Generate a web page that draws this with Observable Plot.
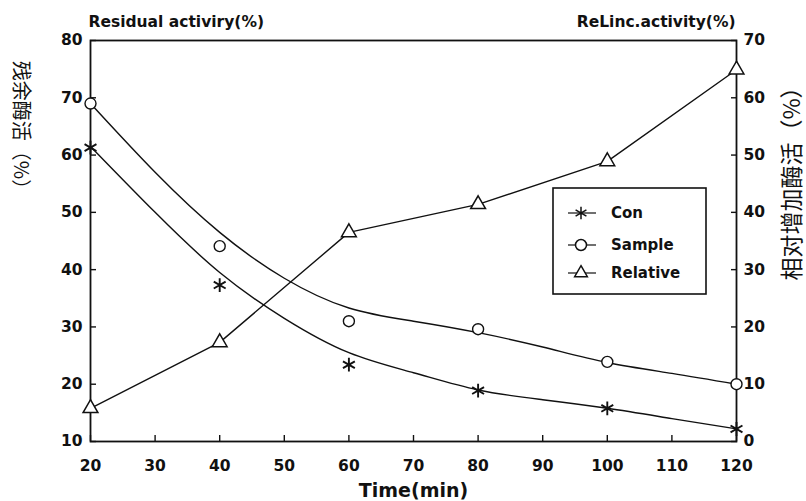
<!DOCTYPE html>
<html><head><meta charset="utf-8">
<script src="https://cdn.jsdelivr.net/npm/d3@7"></script>
<script src="https://cdn.jsdelivr.net/npm/@observablehq/plot@0.6"></script>
<style>
body{margin:0;background:#fff;}
#chart svg{display:block;}
</style></head><body><div id="chart"></div>
<script>
// ---- data ----
const times = [20, 40, 60, 80, 100, 120];
const conValues = [61.3, 37.3, 23.4, 18.9, 15.8, 12.2];          // left axis (%)
const sampleValues = [69.0, 44.1, 31.0, 29.6, 23.9, 20.0];       // left axis (%)
const relativeValues = [5.8, 17.3, 36.5, 41.4, 48.9, 64.9];      // right axis (%)
const fitTimes = [20, 30, 40, 50, 60, 70, 80, 90, 100, 110, 120];
const conFit = [61.5, 50.0, 39.5, 31.5, 25.5, 22.0, 19.0, 17.3, 15.8, 14.0, 12.2];
const sampleFit = [69.0, 57.0, 46.5, 38.5, 33.3, 31.0, 29.0, 26.5, 23.8, 21.9, 20.0];
const xTicks = [20, 30, 40, 50, 60, 70, 80, 90, 100, 110, 120];
const leftTicks = [10, 20, 30, 40, 50, 60, 70, 80];
const rightTicks = [0, 10, 20, 30, 40, 50, 60, 70];
const rightOffset = 10; // right axis 0 aligns with left axis 10
const seriesNames = ["Con", "Sample", "Relative"];
const seriesSymbols = ["asterisk", "circle", "triangle"];

const leftTitle = "Residual activiry(%)";
const rightTitle = "ReLinc.activity(%)";
const xTitle = "Time(min)";
const leftCn = "残余酶活（%）";
const rightCn = "相对增加酶活（%）";

// ---- tables ----
const obs = times.flatMap((t, i) => [
  {t, v: conValues[i], s: "Con"},
  {t, v: sampleValues[i], s: "Sample"},
  {t, v: relativeValues[i] + rightOffset, s: "Relative"}
]);
const fits = [
  ...fitTimes.map((t, i) => ({t, v: conFit[i], s: "Con"})),
  ...fitTimes.map((t, i) => ({t, v: sampleFit[i], s: "Sample"}))
];
const relLine = times.map((t, i) => ({t, v: relativeValues[i] + rightOffset}));

const font = "'DejaVu Sans', 'Liberation Sans', sans-serif";
const cnFont = "'Noto Sans CJK SC', sans-serif";
const ink = "#111";

const plot = Plot.plot({
  width: 806,
  height: 501,
  marginLeft: 90,
  marginRight: 70,
  marginTop: 40,
  marginBottom: 60,
  style: {fontFamily: font, fontWeight: "bold", fontSize: "15px", color: ink, background: "#fff"},
  x: {domain: [20, 120]},
  y: {domain: [10, 80]},
  marks: [
    Plot.frame({stroke: ink, strokeWidth: 1.8}),
    // left axis
    Plot.axisY({ticks: leftTicks, tickSize: 0, tickPadding: 8, label: null, fontSize: 15.5, fontWeight: "bold"}),
    Plot.axisY({ticks: leftTicks, tickSize: 6, dx: 6, text: null, label: null, stroke: ink, strokeWidth: 1.4}),
    // right axis
    Plot.axisY({anchor: "right", ticks: rightTicks.map(d => d + rightOffset), tickFormat: d => d - rightOffset,
      tickSize: 0, tickPadding: 7, label: null, fontSize: 15.5, fontWeight: "bold"}),
    Plot.axisY({anchor: "right", ticks: rightTicks.map(d => d + rightOffset), tickSize: 6, dx: -6, text: null, label: null, stroke: ink, strokeWidth: 1.4}),
    // x axis
    Plot.axisX({ticks: xTicks, tickSize: 0, tickPadding: 18, label: null, fontSize: 15.5, fontWeight: "bold"}),
    Plot.axisX({ticks: xTicks, tickSize: 6, dy: -6, text: null, label: null, stroke: ink, strokeWidth: 1.4}),
    // lines
    Plot.line(fits, {x: "t", y: "v", z: "s", curve: "natural", stroke: ink, strokeWidth: 1.4}),
    Plot.line(relLine, {x: "t", y: "v", curve: "linear", stroke: ink, strokeWidth: 1.4}),
    // points
    Plot.dot(obs.filter(d => d.s === "Sample"), {x: "t", y: "v", symbol: "circle", r: 5.5, fill: "#fff", stroke: ink, strokeWidth: 1.4}),
    Plot.dot(obs.filter(d => d.s === "Relative"), {x: "t", y: "v", symbol: "triangle", r: 5.5, fill: "#fff", stroke: ink, strokeWidth: 1.5}),
    Plot.dot(obs.filter(d => d.s === "Con"), {x: "t", y: "v", symbol: "asterisk", r: 6.5, stroke: ink, strokeWidth: 1.9}),
    // titles
    Plot.text([leftTitle], {frameAnchor: "top-left", text: d => d, textAnchor: "start", lineAnchor: "bottom", dx: -2, dy: -14, fontSize: 15.5, fontWeight: "bold", fill: ink}),
    Plot.text([rightTitle], {frameAnchor: "top-right", text: d => d, textAnchor: "end", lineAnchor: "bottom", dx: -1, dy: -14, fontSize: 15.5, fontWeight: "bold", fill: ink}),
    Plot.text([xTitle], {frameAnchor: "bottom", text: d => d, lineAnchor: "bottom", dy: 55, fontSize: 19, fontWeight: "bold", fill: ink})
  ]
});

const svg = d3.select(plot);

// ---- rotated Chinese axis titles ----
svg.append("text").attr("transform", "translate(22,130) rotate(90)")
  .attr("text-anchor", "middle").attr("dominant-baseline", "central")
  .attr("font-family", cnFont).attr("font-size", 20).attr("font-weight", "normal").attr("fill", ink)
  .text(leftCn);
svg.append("text").attr("transform", "translate(790,178) rotate(-90)")
  .attr("text-anchor", "middle").attr("dominant-baseline", "central")
  .attr("font-family", cnFont).attr("font-size", 23).attr("font-weight", "normal").attr("fill", ink)
  .text(rightCn);

// ---- legend ----
const box = {left: 553, top: 188, width: 153, height: 106};
const g = svg.append("g").attr("font-family", font).attr("font-weight", "bold");
g.append("rect").attr("x", box.left).attr("y", box.top).attr("width", box.width).attr("height", box.height)
  .attr("fill", "#fff").attr("stroke", ink).attr("stroke-width", 1.6);
const rowY = [25, 57, 85];
const symbolPaths = {
  asterisk: d3.symbol(d3.symbolAsterisk, 110)(),
  circle: d3.symbol(d3.symbolCircle, 95)(),
  triangle: d3.symbol(d3.symbolTriangle, 70)()
};
seriesNames.forEach((name, i) => {
  const y = box.top + rowY[i];
  const cx = box.left + 28;
  g.append("line").attr("x1", cx - 13).attr("x2", cx + 15).attr("y1", y).attr("y2", y)
    .attr("stroke", ink).attr("stroke-width", 1.2);
  g.append("path").attr("d", symbolPaths[seriesSymbols[i]]).attr("transform", `translate(${cx},${y})`)
    .attr("fill", seriesSymbols[i] === "asterisk" ? "none" : "#fff").attr("stroke", ink).attr("stroke-width", 1.5);
  g.append("text").attr("x", box.left + 58).attr("y", y).attr("dy", "0.35em")
    .attr("text-anchor", "start").attr("font-size", 15).attr("fill", ink).text(name);
});

document.getElementById("chart").appendChild(plot);
</script>
</body></html>
